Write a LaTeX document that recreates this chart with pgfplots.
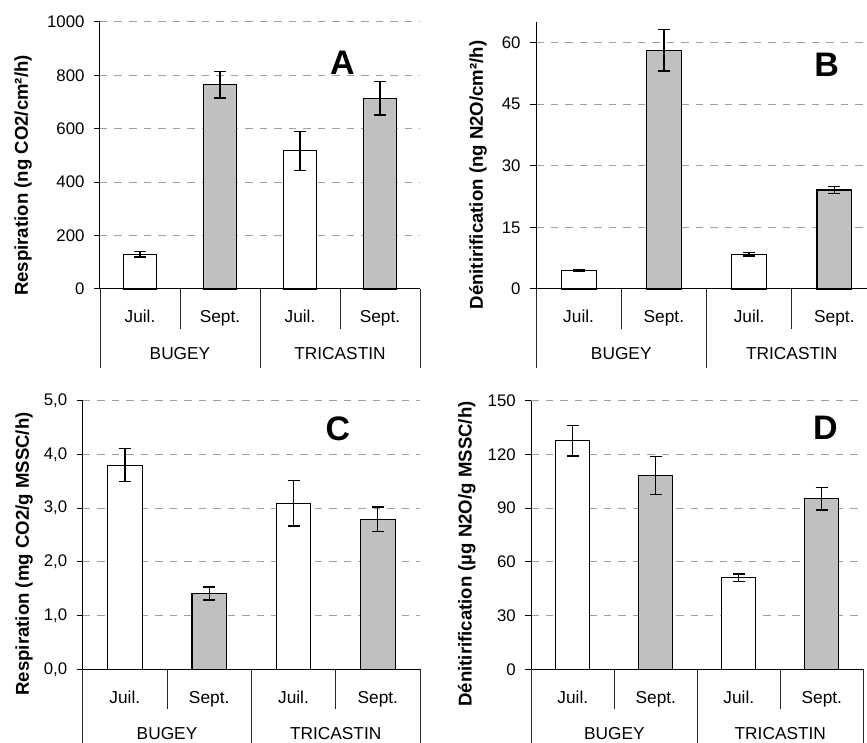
\documentclass[border=0pt]{standalone}
\usepackage{pgfplots}
\pgfplotsset{compat=1.18}
\usepackage{fontspec}
\setmainfont{Liberation Sans}
\definecolor{barg}{HTML}{C0C0C0}
\definecolor{gridg}{HTML}{A0A0A0}
\newcommand{\catfont}{\fontsize{17.3}{20}\selectfont}
\newcommand{\labfont}{\bfseries\fontsize{18.6}{21}\selectfont}
\newcommand{\letfont}{\bfseries\fontsize{34}{37}\selectfont}
\pgfplotsset{
  panel/.style={
    scale only axis, clip=false, anchor=south west,
    xmin=-0.5, xmax=3.5, ymin=0,
    axis x line=none, axis y line*=left,
    y axis line style={line width=1pt, black},
    xtick=\empty,
    tick align=outside, major tick length=6pt,
    ytick style={line width=1pt, black},
    ymajorgrids,
    grid style={gridg, line width=1pt, dash pattern=on 7.5pt off 7pt},
    /pgf/number format/assume math mode=true,
    /pgf/number format/1000 sep={},
    yticklabel style={font=\fontsize{16.8}{18}\selectfont, xshift=-6pt},
  },
  wbar/.style={ybar, bar width=0.41, bar shift=0pt, fill=white, draw=black, line width=1.2pt,
    error bars/.cd, y dir=both, y explicit,
    error bar style={line width=1.3pt, black},
    error mark options={rotate=90, mark size=6pt, line width=1.3pt, black}},
  gbar/.style={ybar, bar width=0.41, bar shift=0pt, fill=barg, draw=black, line width=1.2pt,
    error bars/.cd, y dir=both, y explicit,
    error bar style={line width=1.3pt, black},
    error mark options={rotate=90, mark size=6pt, line width=1.3pt, black}},
}
\newcommand{\cataxis}[1]{%
  \draw[line width=1pt, black] (axis cs:-0.5,0) -- (axis cs:3.5,0);
  \draw[line width=0.9pt, black!85] (axis cs:0.5,0) -- ++(0pt,-40pt);
  \draw[line width=0.9pt, black!85] (axis cs:2.5,0) -- ++(0pt,-40pt);
  \draw[line width=0.9pt, black!85] (axis cs:-0.5,0) -- ++(0pt,-#1);
  \draw[line width=0.9pt, black!85] (axis cs:1.5,0) -- ++(0pt,-#1);
  \draw[line width=0.9pt, black!85] (axis cs:3.5,0) -- ++(0pt,-#1);
  \node[anchor=base, font=\catfont] at ([yshift=-34pt]axis cs:0,0) {Juil.};
  \node[anchor=base, font=\catfont] at ([yshift=-34pt]axis cs:1,0) {Sept.};
  \node[anchor=base, font=\catfont] at ([yshift=-34pt]axis cs:2,0) {Juil.};
  \node[anchor=base, font=\catfont] at ([yshift=-34pt]axis cs:3,0) {Sept.};
  \node[anchor=base, font=\catfont] at ([yshift=-70.5pt]axis cs:0.5,0) {BUGEY};
  \node[anchor=base, font=\catfont] at ([yshift=-70.5pt]axis cs:2.5,0) {TRICASTIN};
}
\begin{document}
\begin{tikzpicture}
\useasboundingbox (0pt,0pt) rectangle (867pt,742pt);
% ---------- A ----------
\begin{axis}[panel, at={(100pt,453pt)}, width=320pt, height=267pt,
  ymax=1000, ytick={0,200,400,600,800,1000}]
\addplot[wbar] coordinates {(0,130) +- (0,10) (2,518) +- (0,73)};
\addplot[gbar] coordinates {(1,765) +- (0,50) (3,714) +- (0,62)};
\cataxis{79pt}
\end{axis}
% ---------- B ----------
\begin{axis}[panel, at={(536pt,453pt)}, width=341pt, height=267pt,
  ymax=65, ytick={0,15,30,45,60}]
\addplot[wbar] coordinates {(0,4.5) +- (0,0.3) (2,8.4) +- (0,0.4)};
\addplot[gbar] coordinates {(1,58.1) +- (0,5) (3,24.1) +- (0,0.9)};
\cataxis{79pt}
\end{axis}
% ---------- C ----------
\begin{axis}[panel, at={(82.7pt,72.7pt)}, width=337.3pt, height=268.6pt,
  ymax=5, ytick={0,1,2,3,4,5},
  yticklabel style={/pgf/number format/.cd, fixed, fixed zerofill, precision=1, use comma}]
\addplot[wbar] coordinates {(0,3.8) +- (0,0.31) (2,3.09) +- (0,0.42)};
\addplot[gbar] coordinates {(1,1.41) +- (0,0.12) (3,2.79) +- (0,0.23)};
\cataxis{80pt}
\end{axis}
% ---------- D ----------
\begin{axis}[panel, at={(531.3pt,72.7pt)}, width=332pt, height=268.6pt,
  ymax=150, ytick={0,30,60,90,120,150}]
\addplot[wbar] coordinates {(0,127.7) +- (0,8.5) (2,51.2) +- (0,2)};
\addplot[gbar] coordinates {(1,108.2) +- (0,10.6) (3,95.3) +- (0,6.3)};
\cataxis{80pt}
\end{axis}
% ---------- labels ----------
\node[rotate=90, font=\labfont] at (23pt,566.5pt) {Respiration (ng CO2/cm²/h)};
\node[rotate=90, font=\labfont] at (478pt,567pt) {Dénitirification (ng N2O/cm²/h)};
\node[rotate=90, font=\labfont] at (24pt,188pt) {Respiration (mg CO2/g MSSC/h)};
\node[rotate=90, font=\labfont] at (466.7pt,188pt) {Dénitirification (µg N2O/g MSSC/h)};
\node[font=\letfont] at (342.5pt,679.5pt) {A};
\node[font=\letfont] at (826.7pt,677pt) {B};
\node[font=\letfont] at (338pt,313pt) {C};
\node[font=\letfont] at (825.5pt,314pt) {D};
\end{tikzpicture}
\end{document}
